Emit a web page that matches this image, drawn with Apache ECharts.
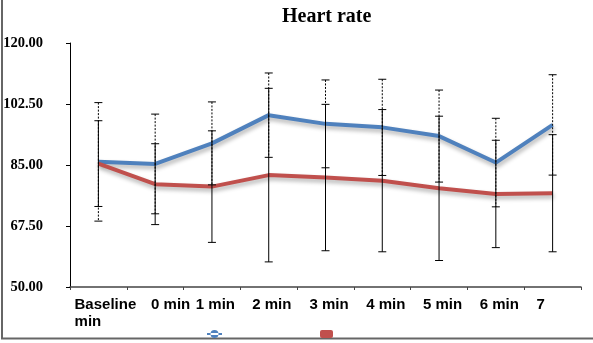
<!DOCTYPE html>
<html>
<head>
<meta charset="utf-8">
<script src="https://cdn.jsdelivr.net/npm/echarts@6/dist/echarts.min.js"></script>
<style>html,body{margin:0;padding:0;background:#fff;}#c{width:593px;height:343px;}</style>
</head>
<body>
<div id="c"></div>
<script>
const categories = ['Baseline min', '0 min', '1 min', '2 min', '3 min', '4 min', '5 min', '6 min', '7'];
const blueMean = [85.9, 85.3, 91.2, 99.3, 96.8, 95.8, 93.3, 85.7, 96.5];
const blueErr  = [17.0, 14.3, 11.9, 12.1, 12.6, 13.8, 13.2, 12.7, 14.4];
const redMean  = [85.4, 79.5, 78.8, 82.1, 81.4, 80.5, 78.3, 76.7, 76.9];
const redErr   = [12.3, 11.6, 16.0, 24.9, 21.0, 20.4, 20.7, 15.4, 16.8];
const yTicks   = [50, 67.5, 85, 102.5, 120];

// label horizontal shift styles (visual only)
const labelStyleKey = ['bl', 's0', 's1', 's2', 's3', 's3', 's3', 's3', 's7'];

const chart = echarts.init(document.getElementById('c'), null, {renderer: 'canvas'});

function errRender(dashed) {
  return function (params, api) {
    const i = api.value(0), m = api.value(1), e = api.value(2);
    const top = api.coord([i, m + e]);
    const bot = api.coord([i, m - e]);
    const x = top[0], hw = 4;
    const st = {stroke: '#000', lineWidth: 1};
    const lineSt = dashed ? {stroke: '#000', lineWidth: 1, lineDash: [2, 1.5]} : st;
    return {
      type: 'group',
      children: [
        {type: 'line', shape: {x1: x, y1: top[1], x2: x, y2: bot[1]}, style: lineSt},
        {type: 'line', shape: {x1: x - hw, y1: top[1], x2: x + hw, y2: top[1]}, style: st},
        {type: 'line', shape: {x1: x - hw, y1: bot[1], x2: x + hw, y2: bot[1]}, style: st}
      ]
    };
  };
}

const lblFont = {fontFamily: 'Liberation Sans', fontWeight: 'bold', fontSize: 15, color: '#000', lineHeight: 17};

const option = {
  backgroundColor: '#fff',
  animation: false,
  title: {
    text: 'Heart rate',
    left: 277, top: 2,
    textStyle: {fontFamily: 'Liberation Serif', fontWeight: 'bold', fontSize: 20, color: '#000'}
  },
  legend: [
    {
      data: [{name: 'Series A', icon: 'path://M0,3h15v2h-15z M3.5,4a4,4 0 1,0 8,0a4,4 0 1,0 -8,0z'}],
      left: 202, top: 325, itemWidth: 15, itemHeight: 8,
      formatter: () => '', selectedMode: false
    },
    {
      data: [{name: 'Series B', icon: 'roundRect'}],
      left: 315, top: 325, itemWidth: 13, itemHeight: 8,
      formatter: () => '', selectedMode: false
    }
  ],
  grid: {left: 70, right: 12, top: 43, bottom: 56, containLabel: false},
  xAxis: {
    type: 'category',
    data: categories,
    boundaryGap: true,
    axisLine: {lineStyle: {color: '#444', width: 1.5}},
    axisTick: {show: true, length: 3, lineStyle: {color: '#444'}},
    axisLabel: {
      interval: 0,
      margin: 9,
      ...lblFont,
      formatter: (v, idx) => {
        const k = labelStyleKey[idx];
        if (k === 'bl') {
          const parts = v.split(' ');
          return '{bl|' + parts[0] + '}\n{bl|' + parts[1] + '}';
        }
        return '{' + k + '|' + v + '}';
      },
      rich: {
        bl: {...lblFont, align: 'left', padding: [0, 0, 0, 14]},
        s0: {...lblFont, padding: [0, 0, 0, 31]},
        s1: {...lblFont, padding: [0, 0, 0, 7]},
        s2: {...lblFont, padding: [0, 0, 0, 6]},
        s3: {...lblFont, padding: [0, 0, 0, 7]},
        s7: {...lblFont, padding: [0, 24, 0, 0]}
      }
    },
    splitLine: {show: false}
  },
  yAxis: {
    type: 'value',
    min: yTicks[0], max: yTicks[yTicks.length - 1], interval: 17.5,
    axisLine: {show: true, lineStyle: {color: '#000', width: 1}},
    axisTick: {show: true, length: 4, lineStyle: {color: '#000'}},
    axisLabel: {
      margin: 27,
      formatter: v => v.toFixed(2),
      fontFamily: 'Liberation Serif', fontWeight: 'bold', fontSize: 14.5, color: '#000'
    },
    splitLine: {show: false}
  },
  series: [
    {
      name: 'Series A', type: 'line', data: blueMean,
      showSymbol: false, symbol: 'circle', symbolSize: 7,
      itemStyle: {color: '#4F81BD'},
      lineStyle: {color: '#4F81BD', width: 4, shadowColor: 'rgba(0,0,0,0.3)', shadowBlur: 4, shadowOffsetX: 1, shadowOffsetY: 3},
      z: 2
    },
    {
      name: 'Series B', type: 'line', data: redMean,
      showSymbol: false, symbol: 'rect',
      itemStyle: {color: '#C0504D'},
      lineStyle: {color: '#C0504D', width: 4, shadowColor: 'rgba(0,0,0,0.3)', shadowBlur: 4, shadowOffsetX: 1, shadowOffsetY: 3},
      z: 2
    },
    {
      type: 'custom', name: 'errA', silent: true, z: 5,
      renderItem: errRender(true),
      data: blueMean.map((m, i) => [i, m, blueErr[i]])
    },
    {
      type: 'custom', name: 'errB', silent: true, z: 6,
      renderItem: errRender(false),
      data: redMean.map((m, i) => [i, m, redErr[i]])
    }
  ],
  graphic: [
    {type: 'line', shape: {x1: 2, y1: 0, x2: 2, y2: 338}, style: {stroke: '#666', lineWidth: 2}},
    {type: 'line', shape: {x1: 1, y1: 338.5, x2: 593, y2: 338.5}, style: {stroke: '#666', lineWidth: 2}}
  ]
};
chart.setOption(option);
</script>
</body>
</html>
